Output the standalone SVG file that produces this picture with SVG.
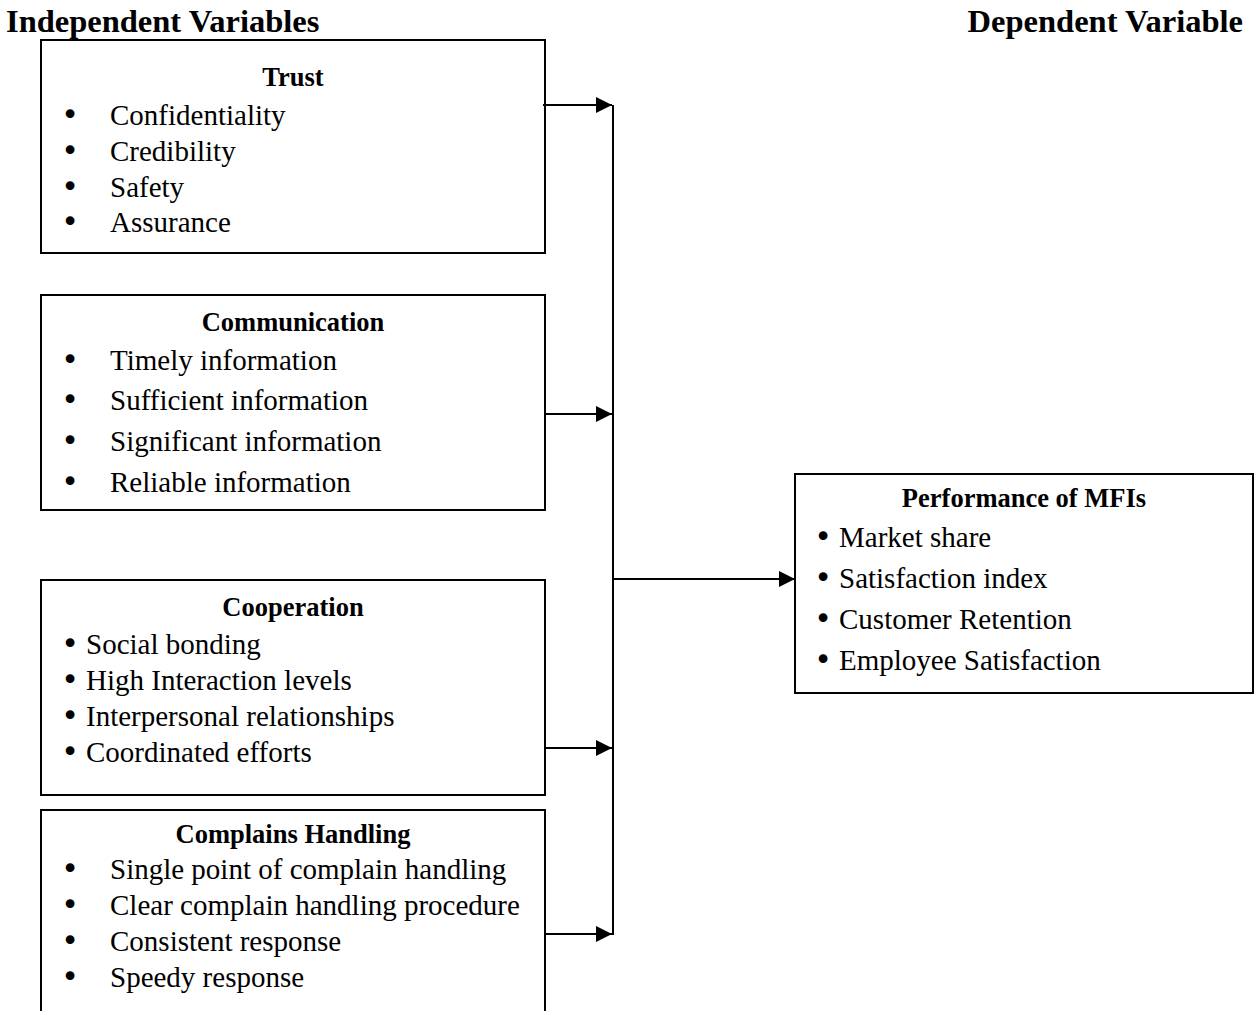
<svg xmlns="http://www.w3.org/2000/svg" width="1254" height="1011" viewBox="0 0 1254 1011">
<style>
.box{fill:#fff;stroke:#000;stroke-width:2}
.hd{font-family:"Liberation Serif",serif;font-weight:bold;font-size:32.5px;fill:#000}
.ti{font-family:"Liberation Serif",serif;font-weight:bold;font-size:26.5px;fill:#000;text-anchor:middle}
.it{font-family:"Liberation Serif",serif;font-size:29px;fill:#000}
.bu{font-family:"DejaVu Sans",sans-serif;font-size:30px;fill:#000;text-anchor:middle}
.ln{stroke:#000;stroke-width:2;fill:none}
</style>
<defs>
<marker id="ah" markerUnits="userSpaceOnUse" markerWidth="18" markerHeight="16" refX="16" refY="8" orient="auto">
<path d="M0,0 L16,8 L0,16 Z" fill="#000"/>
</marker>
</defs>
<rect width="1254" height="1011" fill="#fff"/>
<text class="hd" x="6" y="32">Independent Variables</text>
<text class="hd" x="1243" y="32" text-anchor="end">Dependent Variable</text>

<g id="trust">
<rect class="box" x="41" y="40" width="504" height="213"/>
<text class="ti" x="293" y="86">Trust</text>
<text class="bu" x="70" y="125">•</text><text class="it" x="110" y="125">Confidentiality</text>
<text class="bu" x="70" y="161">•</text><text class="it" x="110" y="161">Credibility</text>
<text class="bu" x="70" y="197">•</text><text class="it" x="110" y="197">Safety</text>
<text class="bu" x="70" y="232">•</text><text class="it" x="110" y="232">Assurance</text>
</g>

<g id="communication">
<rect class="box" x="41" y="295" width="504" height="215"/>
<text class="ti" x="293" y="331">Communication</text>
<text class="bu" x="70" y="370">•</text><text class="it" x="110" y="370">Timely information</text>
<text class="bu" x="70" y="410">•</text><text class="it" x="110" y="410">Sufficient information</text>
<text class="bu" x="70" y="451">•</text><text class="it" x="110" y="451">Significant information</text>
<text class="bu" x="70" y="492">•</text><text class="it" x="110" y="492">Reliable information</text>
</g>

<g id="cooperation">
<rect class="box" x="41" y="580" width="504" height="215"/>
<text class="ti" x="293" y="616">Cooperation</text>
<text class="bu" x="70" y="654">•</text><text class="it" x="86" y="654">Social bonding</text>
<text class="bu" x="70" y="690">•</text><text class="it" x="86" y="690">High Interaction levels</text>
<text class="bu" x="70" y="726">•</text><text class="it" x="86" y="726">Interpersonal relationships</text>
<text class="bu" x="70" y="762">•</text><text class="it" x="86" y="762">Coordinated efforts</text>
</g>

<g id="complains">
<path class="ln" d="M41,1012 V810 H545 V1012"/>
<text class="ti" x="293" y="843">Complains Handling</text>
<text class="bu" x="70" y="879">•</text><text class="it" x="110" y="879">Single point of complain handling</text>
<text class="bu" x="70" y="915">•</text><text class="it" x="110" y="915">Clear complain handling procedure</text>
<text class="bu" x="70" y="951">•</text><text class="it" x="110" y="951">Consistent response</text>
<text class="bu" x="70" y="987">•</text><text class="it" x="110" y="987">Speedy response</text>
</g>

<g id="performance">
<rect class="box" x="795" y="474" width="458" height="219"/>
<text class="ti" x="1024" y="507">Performance of MFIs</text>
<text class="bu" x="823" y="547">•</text><text class="it" x="839" y="547">Market share</text>
<text class="bu" x="823" y="588">•</text><text class="it" x="839" y="588">Satisfaction index</text>
<text class="bu" x="823" y="629">•</text><text class="it" x="839" y="629">Customer Retention</text>
<text class="bu" x="823" y="670">•</text><text class="it" x="839" y="670">Employee Satisfaction</text>
</g>

<g id="connectors">
<line class="ln" x1="613" y1="105" x2="613" y2="935"/>
<line class="ln" x1="543" y1="105" x2="612" y2="105" marker-end="url(#ah)"/>
<line class="ln" x1="545" y1="414" x2="612" y2="414" marker-end="url(#ah)"/>
<line class="ln" x1="545" y1="748" x2="612" y2="748" marker-end="url(#ah)"/>
<line class="ln" x1="545" y1="934" x2="612" y2="934" marker-end="url(#ah)"/>
<line class="ln" x1="613" y1="579" x2="795" y2="579" marker-end="url(#ah)"/>
</g>
</svg>
